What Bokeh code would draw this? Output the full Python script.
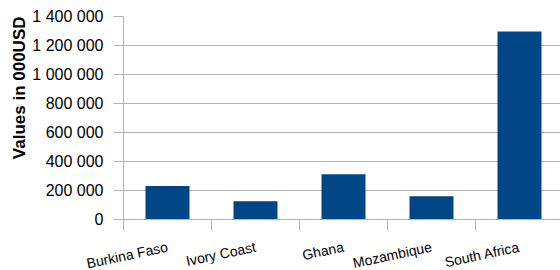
import math
from bokeh.plotting import figure
from bokeh.models import Range1d, FixedTicker, Title
from bokeh.embed import file_html
from bokeh.resources import INLINE

countries = ["Burkina Faso", "Ivory Coast", "Ghana", "Mozambique", "South Africa"]
values = [231000, 126000, 312000, 160000, 1297000]
y_ticks = [0, 200000, 400000, 600000, 800000, 1000000, 1200000, 1400000]
y_tick_labels = ["0", "200 000", "400 000", "600 000", "800 000",
                 "1 000 000", "1 200 000", "1 400 000"]
y_title = "Values in 000USD"

BAR = "#004586"
GRID = "#b3b3b3"
FONT = "Liberation Sans"

xs = [i + 0.5 for i in range(len(countries))]
bounds = list(range(len(countries) + 1))

p = figure(frame_width=437, frame_height=203, output_backend="svg",
           toolbar_location=None,
           x_range=Range1d(0, 4.966), y_range=Range1d(0, 1400000),
           min_border_left=123, min_border_right=0, min_border_top=16,
           min_border_bottom=0)
p.outline_line_color = None
p.background_fill_color = "white"
p.border_fill_color = "white"

p.vbar(x=xs, top=values, width=0.5, color=BAR, line_color=None)

# x axis
xa = p.xaxis[0]
xa.ticker = FixedTicker(ticks=xs, minor_ticks=bounds)
xa.major_label_overrides = {x: c for x, c in zip(xs, countries)}
xa.axis_line_color = GRID
xa.major_tick_out = 0
xa.major_tick_in = 0
xa.minor_tick_out = 11
xa.minor_tick_in = 0
xa.minor_tick_line_color = GRID
xa.major_label_orientation = math.radians(12)
xa.major_label_standoff = 16
xa.major_label_text_font = FONT
xa.major_label_text_font_size = "14px"
xa.major_label_text_color = "#000000"

# y axis
ya = p.yaxis[0]
ya.ticker = FixedTicker(ticks=y_ticks)
ya.major_label_overrides = {t: l for t, l in zip(y_ticks, y_tick_labels)}
ya.axis_line_color = GRID
ya.major_tick_out = 10
ya.major_tick_in = 0
ya.major_tick_line_color = GRID
ya.minor_tick_line_color = None
ya.major_label_standoff = 10
ya.major_label_text_font = FONT
ya.major_label_text_font_size = "16px"
ya.major_label_text_color = "#000000"

p.xgrid.grid_line_color = None
p.ygrid.grid_line_color = GRID
p.ygrid.grid_line_width = 1

p.add_layout(Title(text=y_title, align="right", text_font=FONT,
                   text_font_style="bold", text_font_size="17px",
                   text_color="#000000", standoff=2), "left")

open("out.html", "w").write(file_html(p, INLINE))
